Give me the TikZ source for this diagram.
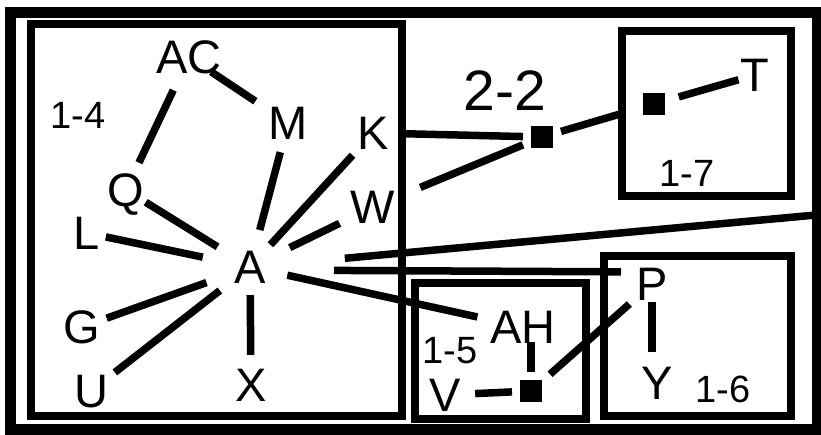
\documentclass[tikz,border=0pt]{standalone}
\usepackage{fontspec}
\setmainfont{Liberation Sans}
\usetikzlibrary{calc}

\begin{document}
\begin{tikzpicture}[
    x=1pt, y=-1pt,
    site/.style={circle, inner sep=0pt, minimum size=60pt, font=\fontsize{47}{47}\selectfont, text height=33pt, text depth=0pt},
    hub/.style={fill=black, inner sep=0pt, minimum size=22pt, outer sep=8pt},
    tag/.style={inner sep=0pt, font=\fontsize{38}{38}\selectfont, text height=26pt, text depth=0pt},
    region/.style={draw, line width=7.5pt},
    link/.style={line width=7.5pt}
]
    \useasboundingbox (0,0) rectangle (821,435);

    % Frames
    \draw[line width=11pt] (10,12.5) rectangle (817,429);
    \draw[region] (31,24) rectangle (402,416);
    \draw[region] (622,31) rectangle (791,196);
    \draw[region] (415,283) rectangle (586,419);
    \draw[region] (604,256) rectangle (791,416);

    % Group 1-4
    \node[tag] (g14) at (78,116) {1-4};
    \node[site] (AC) at (189,57) {AC};
    \node[site] (M) at (288,123) {M};
    \node[site] (K) at (373,133) {K};
    \node[site] (Q) at (126,190) {Q};
    \node[site] (W) at (373,207) {W};
    \node[site] (L) at (87,233) {L};
    \node[site, minimum size=76pt] (A) at (250,267) {A};
    \node[site] (G) at (82,327) {G};
    \node[site] (U) at (91,391) {U};
    \node[site] (X) at (251,385) {X};

    % Group 2-2 and 1-7
    \node[tag, font=\fontsize{57}{57}\selectfont, text height=40pt] (g22) at (505,91) {2-2};
    \node[hub] (h22) at (542,137) {};
    \node[tag] (g17) at (687,174) {1-7};
    \node[hub] (h17) at (654,104) {};
    \node[site] (T) at (755,75) {T};

    % Groups 1-5 and 1-6
    \node[tag] (g15) at (450,350) {1-5};
    \node[site] (AH) at (523,327) {AH};
    \node[site] (V) at (445,395) {V};
    \node[hub] (h15) at (531,391) {};
    \node[tag] (g16) at (723,389) {1-6};
    \node[site] (P) at (652,284) {P};
    \node[site] (Y) at (657,383) {Y};

    \coordinate (exit) at (816,215);

    % Links inside 1-4
    \draw[link] (AC) -- (Q);
    \draw[link, shorten <=-10pt, shorten >=9pt] (AC) -- (M);
    \draw[link] (M) -- (A);
    \draw[link, shorten >=-8pt] (K) -- (A);
    \draw[link, shorten <=-7pt] (Q) -- (A);
    \draw[link, shorten <=7pt, shorten >=6pt] (W) -- (A);
    \draw[link, shorten <=-11pt, shorten >=10pt] (L) -- (A);
    \draw[link, shorten <=-4pt, shorten >=8pt] (G) -- (A);
    \draw[link] (U) -- (A);
    \draw[link, shorten <=-10pt] (A) -- (X);

    % Links leaving 1-4
    \draw[link, shorten <=57pt] (A) -- (exit);
    \draw[link, shorten <=84pt, shorten >=31pt] ($(A)+(0,3)$) -- ($(A -| P)+(0,5)$);
    \draw[link, shorten >=10pt] (A) -- (AH);
    \draw[link] (K) -- (h22);
    \draw[link, shorten <=21pt] (W) -- (h22);
    \draw[link, shorten >=17pt] (h22) -- (h17);
    \draw[link, shorten <=6pt, shorten >=-13pt] (h17) -- (T);

    % Links in 1-5 and 1-6
    \draw[link] (P) -- (h15);
    \draw[link] (V) -- (h15);
    \draw[link, shorten >=15pt] (h15) -- (h15 |- AH);
    \draw[link, shorten <=-12pt, shorten >=31pt] (P) -- (P |- Y);
\end{tikzpicture}
\end{document}
